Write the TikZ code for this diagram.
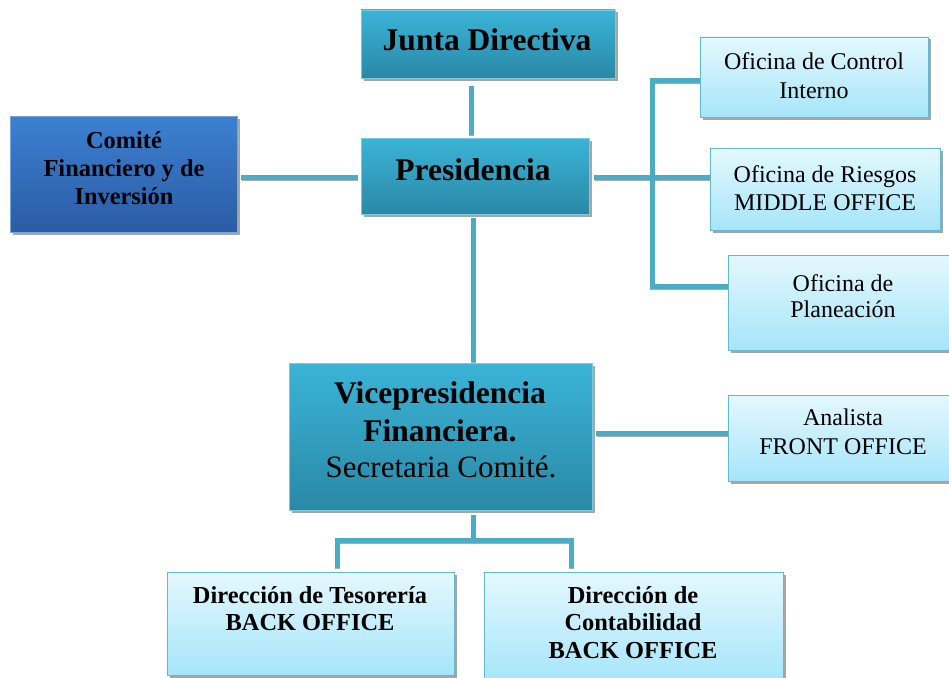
\documentclass[tikz,border=0pt]{standalone}
\usepackage{fontspec}
\setmainfont{Liberation Serif}
\usetikzlibrary{shadows}
\definecolor{tealtop}{HTML}{3BB4D7}
\definecolor{tealbot}{HTML}{2A88A6}
\definecolor{bluetop}{HTML}{3C80D2}
\definecolor{bluebot}{HTML}{2B5CA4}
\definecolor{lighttop}{HTML}{E4F8FE}
\definecolor{lightbot}{HTML}{A6E5FA}
\definecolor{lightedge}{HTML}{62BAD2}
\definecolor{lineblue}{HTML}{4BACC6}
\tikzset{
  boxbase/.style={rectangle, inner sep=0pt, line width=0.8pt,
    drop shadow={shadow xshift=2.5pt, shadow yshift=-2.5pt, fill=black, opacity=0.35}},
  tealbox/.style={boxbase, draw=tealtop!70!white, top color=tealtop, bottom color=tealbot},
  bluebox/.style={boxbase, draw=bluetop!70!white, top color=bluetop, bottom color=bluebot},
  lightbox/.style={boxbase, draw=lightedge, top color=lighttop, bottom color=lightbot},
  conn/.style={draw=lineblue, line width=5pt},
  connshade/.style={draw=black!60, opacity=0.55, line width=5pt},
  big/.style={anchor=base, font=\fontsize{31.5}{36}\selectfont\bfseries},
  bigr/.style={anchor=base, font=\fontsize{31}{36}\selectfont},
  mid/.style={anchor=base, font=\fontsize{24.4}{28}\selectfont\bfseries},
  midr/.style={anchor=base, font=\fontsize{24}{28}\selectfont},
}
\newcommand\conndraw[2]{%
  \draw[connshade, #1, transform canvas={shift={(0.8pt,-1.7pt)}}] #2;
  \draw[conn, #1] #2;}
\begin{document}
\begin{tikzpicture}[x=1pt,y=-1pt]
\useasboundingbox[fill=white] (0,0) rectangle (949,677);
% boxes
\node[tealbox, minimum width=254pt, minimum height=68pt] (jd) at (488,44) {};
\node[tealbox, minimum width=228pt, minimum height=76pt] (pres) at (475,176) {};
\node[bluebox, minimum width=227pt, minimum height=116pt] (com) at (124,174) {};
\node[lightbox, minimum width=228pt, minimum height=80pt] (oci) at (814,77) {};
\node[lightbox, minimum width=230pt, minimum height=82pt] (ori) at (825,189) {};
\node[lightbox, minimum width=230pt, minimum height=95pt] (opl) at (843,302.5) {};
\node[tealbox, minimum width=303pt, minimum height=147pt] (vice) at (440.5,436.5) {};
\node[lightbox, minimum width=230pt, minimum height=86pt] (ana) at (843,438) {};
\node[lightbox, minimum width=287pt, minimum height=103pt] (tes) at (310.5,623.5) {};
\node[lightbox, minimum width=299pt, minimum height=110pt] (con) at (633.5,627) {};
% texts
\node[big] (jdt) at (487,50) {Junta Directiva};
\node[big] (prest) at (473,180) {Presidencia};
\node[mid] (com1) at (124,148) {Comité};
\node[mid] (com2) at (124,176) {Financiero y de};
\node[mid] (com3) at (124,204) {Inversión};
\node[midr] (oci1) at (814,70) {Oficina de Control};
\node[midr] (oci2) at (814,98) {Interno};
\node[midr] (ori1) at (825,182) {Oficina de Riesgos};
\node[midr] (ori2) at (825,210) {MIDDLE OFFICE};
\node[midr] (opl1) at (843,291) {Oficina de};
\node[midr] (opl2) at (843,317) {Planeación};
\node[big] (vice1) at (440,403) {Vicepresidencia};
\node[big] (vice2) at (440,441) {Financiera.};
\node[bigr] (vice3) at (441,477) {Secretaria Comité.};
\node[midr] (ana1) at (843,425) {Analista};
\node[midr] (ana2) at (843,454) {FRONT OFFICE};
\node[mid] (tes1) at (310,603) {Dirección de Tesorería};
\node[mid] (tes2) at (310,630) {BACK OFFICE};
\node[mid] (con1) at (633,603) {Dirección de};
\node[mid] (con2) at (633,630) {Contabilidad};
\node[mid] (con3) at (633,658) {BACK OFFICE};
% connector coordinates
\coordinate (xj) at (471,0);
\coordinate (xp) at (473,0);
\coordinate (xbus) at (652,0);
\coordinate (xt) at (337,0);
\coordinate (xc) at (571,0);
\coordinate (ym) at (0,177);
\coordinate (yoc) at (0,80);
\coordinate (ypl) at (0,286);
\coordinate (yan) at (0,433);
\coordinate (ybar) at (0,540);
% connectors
\conndraw{shorten <=8pt, shorten >=3pt}{(jd.south -| xj) -- (pres.north -| xj)}
\conndraw{shorten <=3pt, shorten >=3pt}{(com.east |- ym) -- (pres.west |- ym)}
\conndraw{shorten <=5pt}{(pres.east |- ym) -- (ori.west |- ym)}
\conndraw{}{(oci.west |- yoc) -| (xbus |- ypl) -- (opl.west |- ypl)}
\conndraw{shorten <=4pt, shorten >=1pt}{(pres.south -| xp) -- (vice.north -| xp)}
\conndraw{shorten <=4pt}{(vice.east |- yan) -- (ana.west |- yan)}
\conndraw{shorten <=5pt}{(vice.south -| xp) -- (xp |- ybar)}
\conndraw{shorten <=4pt, shorten >=4pt}{(tes.north -| xt) |- (xc |- ybar) -- (con.north -| xc)}
\end{tikzpicture}
\end{document}
